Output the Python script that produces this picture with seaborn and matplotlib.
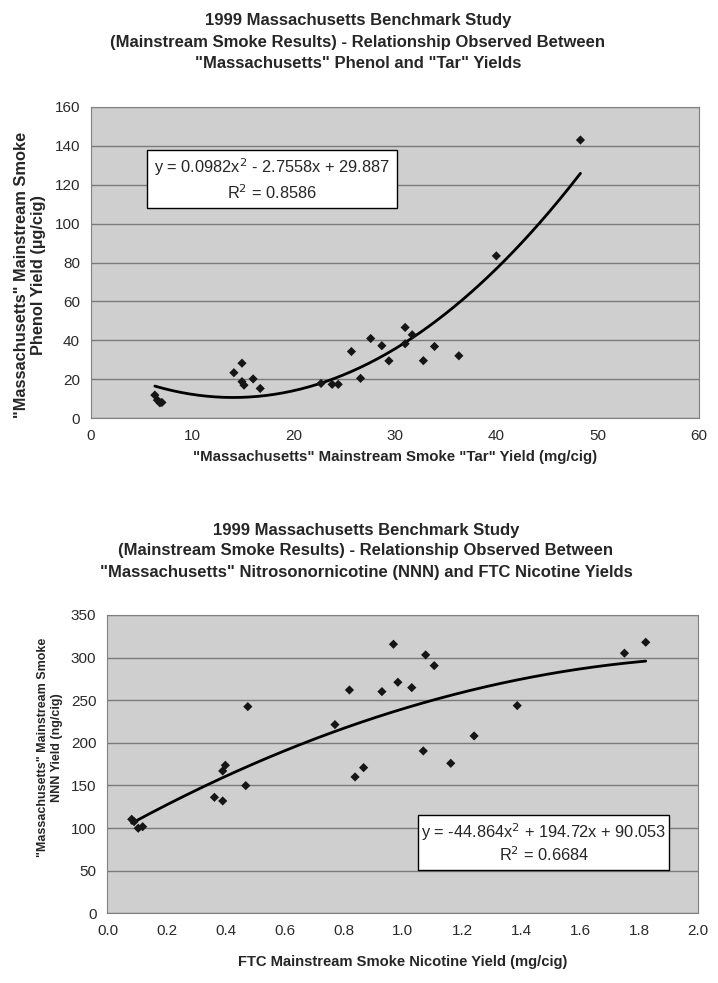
# Massachusetts benchmark study - two scatter charts with quadratic trendlines

import numpy as np
import pandas as pd
import matplotlib
matplotlib.use('Agg')
import matplotlib.pyplot as plt
import seaborn as sns
from matplotlib.patches import Rectangle

# Top chart data: "Tar" yield (mg/cig) vs phenol yield (ug/cig)
tar_yield = [6.3, 6.55, 6.8, 7.0, 14.1, 14.9, 14.9, 15.1, 16.0, 16.7,
             22.7, 23.8, 24.4, 25.7, 26.6, 27.6, 28.7, 29.4, 31.0, 31.0,
             31.7, 32.8, 33.9, 36.3, 40.0, 48.3]
phenol_yield = [11.8, 9.2, 7.8, 8.0, 23.3, 28.2, 18.7, 16.9, 20.1, 15.2,
                17.8, 17.3, 17.3, 34.2, 20.4, 40.9, 37.2, 29.4, 46.6, 38.2,
                42.8, 29.5, 36.8, 32.0, 83.4, 143.0]
phenol_coef = [0.0982, -2.7558, 29.887]
phenol_r2 = 0.8586

# Bottom chart data: FTC nicotine yield (mg/cig) vs NNN yield (ng/cig)
nicotine_yield = [0.082, 0.090, 0.104, 0.119, 0.362, 0.390, 0.390, 0.399, 0.468, 0.475,
                  0.770, 0.819, 0.838, 0.867, 0.929, 0.968, 0.983, 1.030, 1.077, 1.106,
                  1.069, 1.162, 1.241, 1.387, 1.750, 1.822]
nnn_yield = [110.3, 107.5, 99.8, 101.6, 136.1, 131.8, 167.0, 173.7, 149.8, 242.5,
             221.4, 262.0, 160.0, 170.9, 260.1, 315.7, 271.1, 264.8, 303.2, 290.6,
             190.5, 176.0, 208.1, 243.7, 305.2, 318.0]
nnn_coef = [-44.864, 194.72, 90.053]
nnn_r2 = 0.6684

top_title = ['1999 Massachusetts Benchmark Study',
             '(Mainstream Smoke Results) - Relationship Observed Between',
             '"Massachusetts" Phenol and "Tar" Yields']
bottom_title = ['1999 Massachusetts Benchmark Study',
                '(Mainstream Smoke Results) - Relationship Observed Between',
                '"Massachusetts" Nitrosonornicotine (NNN) and FTC Nicotine Yields']

sns.set_style('white')
plt.rcParams['font.family'] = ['Liberation Sans', 'DejaVu Sans']

W, H = 718, 983
fig = plt.figure(figsize=(W / 100, H / 100), dpi=100)


def px_axes(left, top, right, bottom):
    return fig.add_axes([left / W, 1 - bottom / H, (right - left) / W, (bottom - top) / H])


def style_axes(ax):
    ax.set_facecolor('#cfcfcf')
    ax.grid(False)
    ax.yaxis.grid(True, color='#7a7a7a', linewidth=1.0)
    ax.set_axisbelow(True)
    for s in ax.spines.values():
        s.set_color('#808080')
        s.set_linewidth(0.8)
    ax.tick_params(axis='both', direction='out', length=4, width=0.8, color='#808080',
                   labelsize=11, labelcolor='#2a2a2a', pad=4)


def trend(ax, xs, coef):
    xx = np.linspace(min(xs), max(xs), 200)
    fit = pd.DataFrame({'x': xx, 'y': np.polyval(coef, xx)})
    sns.lineplot(data=fit, x='x', y='y', ax=ax, color='black', linewidth=2.0)


# ---- top chart
ax1 = px_axes(91, 107, 699, 418)
style_axes(ax1)
df1 = pd.DataFrame({'tar': tar_yield, 'phenol': phenol_yield})
trend(ax1, tar_yield, phenol_coef)
sns.scatterplot(data=df1, x='tar', y='phenol', ax=ax1, marker='D', s=22,
                color='#151515', edgecolor='none', zorder=3)
ax1.set_xlim(0, 60)
ax1.set_ylim(0, 160)
ax1.set_xticks(range(0, 61, 10))
ax1.set_yticks(range(0, 161, 20))
ax1.set_xlabel('"Massachusetts" Mainstream Smoke "Tar" Yield (mg/cig)',
               fontsize=10.8, fontweight='bold', labelpad=5)
ax1.set_ylabel('"Massachusetts" Mainstream Smoke\nPhenol Yield (\u00b5g/cig)',
               fontsize=11.8, fontweight='bold', va='center', linespacing=1.1)
ax1.yaxis.set_label_coords((30 - 91) / 608, 0.46)

ax1.add_patch(Rectangle((0.0916, 0.674), 0.411, 0.1875, transform=ax1.transAxes,
                        facecolor='white', edgecolor='black', linewidth=1.0, zorder=4))
ax1.text(0.297, 0.805, 'y = %.4fx$^2$ - %.4fx + %.3f' % (phenol_coef[0], -phenol_coef[1], phenol_coef[2]),
         transform=ax1.transAxes, ha='center', va='center', fontsize=11.8, zorder=5)
ax1.text(0.297, 0.724, 'R$^2$ = %.4f' % phenol_r2, transform=ax1.transAxes,
         ha='center', va='center', fontsize=11.8, zorder=5)

for i, line in enumerate(top_title):
    fig.text(358 / W, 1 - (21 + 21 * i) / H, line, ha='center', va='center',
             fontsize=12, fontweight='bold')

# ---- bottom chart
ax2 = px_axes(107.5, 615, 698.3, 913.3)
style_axes(ax2)
df2 = pd.DataFrame({'nicotine': nicotine_yield, 'nnn': nnn_yield})
trend(ax2, nicotine_yield, nnn_coef)
sns.scatterplot(data=df2, x='nicotine', y='nnn', ax=ax2, marker='D', s=22,
                color='#151515', edgecolor='none', zorder=3)
ax2.set_xlim(0, 2.0)
ax2.set_ylim(0, 350)
ax2.set_xticks(np.arange(0, 2.01, 0.2))
ax2.set_xticklabels(['%.1f' % v for v in np.arange(0, 2.01, 0.2)])
ax2.set_yticks(range(0, 351, 50))
ax2.set_xlabel('FTC Mainstream Smoke Nicotine Yield (mg/cig)',
               fontsize=10.6, fontweight='bold', labelpad=12)
ax2.set_ylabel('"Massachusetts" Mainstream Smoke\nNNN Yield (ng/cig)',
               fontsize=9, fontweight='bold', va='center', linespacing=1.15)
ax2.yaxis.set_label_coords((50 - 107.5) / 590.8, 0.557)

ax2.add_patch(Rectangle((0.526, 0.145), 0.425, 0.184, transform=ax2.transAxes,
                        facecolor='white', edgecolor='black', linewidth=1.0, zorder=4))
ax2.text(0.7385, 0.2715, 'y = %.3fx$^2$ + %.2fx + %.3f' % (nnn_coef[0], nnn_coef[1], nnn_coef[2]),
         transform=ax2.transAxes, ha='center', va='center', fontsize=11.8, zorder=5)
ax2.text(0.7385, 0.1955, 'R$^2$ = %.4f' % nnn_r2, transform=ax2.transAxes,
         ha='center', va='center', fontsize=11.8, zorder=5)

for i, line in enumerate(bottom_title):
    fig.text(366 / W, 1 - (530 + 21 * i) / H, line, ha='center', va='center',
             fontsize=12, fontweight='bold')

plt.savefig('out.png', dpi=100)
